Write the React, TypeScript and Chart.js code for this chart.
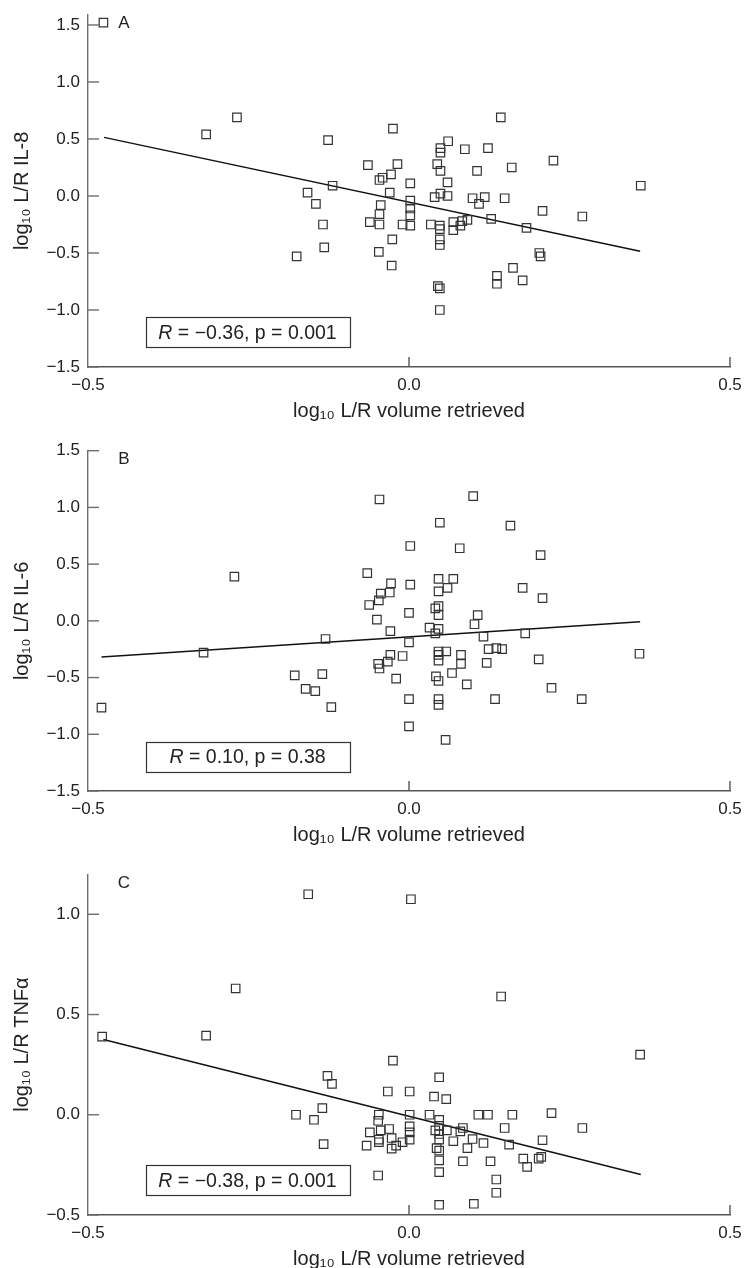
import React, { useEffect, useRef } from "react";
import { Chart, registerables } from "chart.js";

Chart.register(...registerables);

const FONT = "'Liberation Sans', Arial, Helvetica, sans-serif";
Chart.defaults.font.family = FONT;

// ---------- data ----------
const xTitle = "log₁₀ L/R volume retrieved";
const xTickValues = [-0.5, 0, 0.5];
const yTicksAB = [-1.5, -1.0, -0.5, 0, 0.5, 1.0, 1.5];
const yTicksC = [-0.5, 0, 0.5, 1.0];

// Panel A: IL-8
const aX = [
  -0.476, -0.316, -0.268, -0.126, -0.064, -0.119, -0.158, -0.025, 0.143, 0.061,
  0.049, 0.049, 0.087, 0.123, -0.018, 0.044, 0.049, 0.106, 0.16, 0.225,
  0.361, -0.046, -0.041, -0.028, 0.002, 0.06, -0.03, 0.04, 0.049, 0.06,
  0.099, 0.118, 0.149, -0.145, -0.134, -0.132, -0.175, -0.044, -0.046, -0.061,
  -0.046, -0.047, -0.026, -0.027, 0.002, 0.002, 0.002, -0.01, 0.002, 0.034,
  0.048, 0.048, 0.048, 0.048, 0.045, 0.048, 0.048, 0.069, 0.069, 0.08,
  0.083, 0.091, 0.109, 0.128, 0.183, 0.208, 0.27, 0.137, 0.137, 0.162,
  0.177, 0.203, 0.205,
];
const aY = [
  1.52, 0.54, 0.69, 0.49, 0.27, 0.09, 0.03, 0.59, 0.69, 0.48,
  0.42, 0.38, 0.41, 0.42, 0.28, 0.28, 0.22, 0.22, 0.25, 0.31,
  0.09, 0.14, 0.16, 0.19, 0.11, 0.12, 0.03, -0.01, 0.02, 0.0,
  -0.02, -0.01, -0.02, -0.07, -0.25, -0.45, -0.53, -0.08, -0.16, -0.23,
  -0.25, -0.49, -0.38, -0.61, -0.04, -0.11, -0.17, -0.25, -0.26, -0.25,
  -0.26, -0.29, -0.38, -0.43, -0.79, -0.81, -1.0, -0.23, -0.3, -0.26,
  -0.22, -0.21, -0.07, -0.2, -0.28, -0.13, -0.18, -0.7, -0.77, -0.63,
  -0.74, -0.5, -0.53,
];
const aLineX = [-0.475, 0.36];
const aLineY = [0.514, -0.485];

// Panel B: IL-6
const bX = [
  -0.272, -0.065, -0.046, 0.1, 0.048, 0.158, 0.002, 0.079, 0.205, -0.028,
  0.002, 0.046, 0.069, 0.06, 0.046, 0.177, -0.044, -0.03, -0.047, 0.208,
  -0.062, -0.479, -0.32, -0.13, -0.178, -0.135, -0.161, -0.146, -0.121, -0.05,
  -0.029, -0.029, -0.033, -0.048, -0.046, -0.01, -0.02, 0.0, 0.0, 0.0,
  0.0, 0.041, 0.046, 0.046, 0.032, 0.041, 0.046, 0.046, 0.046, 0.046,
  0.058, 0.042, 0.046, 0.046, 0.046, 0.057, 0.067, 0.081, 0.081, 0.09,
  0.102, 0.107, 0.116, 0.121, 0.124, 0.136, 0.145, 0.134, 0.181, 0.202,
  0.222, 0.269, 0.359,
];
const bY = [
  0.39, 0.42, 1.07, 1.1, 0.865, 0.84, 0.66, 0.64, 0.58, 0.33,
  0.32, 0.37, 0.37, 0.29, 0.26, 0.29, 0.24, 0.25, 0.18, 0.2,
  0.14, -0.765, -0.28, -0.16, -0.48, -0.47, -0.6, -0.62, -0.76, 0.01,
  -0.09, -0.3, -0.36, -0.38, -0.42, -0.31, -0.51, 0.07, -0.19, -0.69,
  -0.93, 0.11, 0.13, 0.05, -0.06, -0.11, -0.07, -0.27, -0.3, -0.35,
  -0.27, -0.49, -0.53, -0.69, -0.74, -1.05, -0.46, -0.38, -0.3, -0.56,
  -0.03, 0.05, -0.14, -0.37, -0.25, -0.24, -0.25, -0.69, -0.11, -0.34,
  -0.59, -0.69, -0.29,
];
const bLineX = [-0.479, 0.36];
const bLineY = [-0.318, -0.009];

// Panel C: TNFα
const cX = [
  -0.157, -0.27, -0.316, -0.478, 0.003, 0.1435, 0.36, -0.025, -0.127, -0.12,
  0.047, -0.033, 0.001, 0.039, 0.058, -0.176, -0.135, -0.148, -0.133, -0.047,
  -0.048, -0.061, -0.044, -0.031, -0.027, -0.047, -0.047, -0.066, -0.027, -0.02,
  -0.01, 0.001, 0.001, 0.001, 0.001, 0.032, 0.047, 0.047, 0.041, 0.047,
  0.047, 0.043, 0.047, 0.047, 0.047, 0.047, -0.048, 0.059, 0.069, 0.084,
  0.08, 0.091, 0.099, 0.084, 0.101, 0.108, 0.123, 0.116, 0.127, 0.136,
  0.136, 0.149, 0.156, 0.161, 0.178, 0.184, 0.202, 0.206, 0.208, 0.222,
  0.27,
];
const cY = [
  1.1, 0.63, 0.395, 0.39, 1.075, 0.59, 0.3, 0.27, 0.194, 0.154,
  0.187, 0.116, 0.116, 0.091, 0.078, 0.0, 0.033, -0.025, -0.146, 0.0,
  -0.03, -0.088, -0.078, -0.071, -0.116, -0.124, -0.137, -0.154, -0.169, -0.154,
  -0.137, 0.0, -0.058, -0.088, -0.124, 0.0, -0.025, -0.055, -0.078, -0.096,
  -0.124, -0.166, -0.179, -0.228, -0.286, -0.449, -0.303, -0.078, -0.132, -0.066,
  -0.083, -0.166, -0.121, -0.232, -0.444, 0.0, 0.0, -0.141, -0.232, -0.323,
  -0.389, -0.066, -0.149, 0.0, -0.219, -0.26, -0.219, -0.21, -0.127, 0.008,
  -0.066,
];
const cLineX = [-0.476, 0.361];
const cLineY = [0.375, -0.298];

// ---------- helpers ----------
function fmt(v: number): string {
  const s = Math.abs(v).toFixed(1);
  return v < -1e-9 ? "\u2212" + s : s;
}

const decorPlugin = {
  id: "decor",
  afterDraw(chart: any, _args: any, opts: any) {
    const { ctx, chartArea } = chart;
    const xs = chart.scales.x;
    const ys = chart.scales.y;
    ctx.save();
    // inward y ticks
    ctx.strokeStyle = "#6e6e6e";
    ctx.lineWidth = 1.4;
    ys.ticks.forEach((t: any) => {
      const py = ys.getPixelForValue(t.value);
      ctx.beginPath();
      ctx.moveTo(chartArea.left, py);
      ctx.lineTo(chartArea.left + 11, py);
      ctx.stroke();
    });
    // inward x ticks
    ctx.strokeStyle = "#555";
    ctx.lineWidth = 1.4;
    xs.ticks.forEach((t: any) => {
      if (t.value <= xs.min + 1e-9) return;
      const px = xs.getPixelForValue(t.value);
      ctx.beginPath();
      ctx.moveTo(px, chartArea.bottom);
      ctx.lineTo(px, chartArea.bottom - 10);
      ctx.stroke();
    });
    // panel letter
    ctx.fillStyle = "#222";
    ctx.font = "17px " + FONT;
    ctx.textAlign = "center";
    ctx.textBaseline = "middle";
    ctx.fillText(opts.letter, chartArea.left + 36, chartArea.top + 9);
    // stat box
    const b = opts.box;
    const x0 = xs.getPixelForValue(b[0]);
    const x1 = xs.getPixelForValue(b[1]);
    const y0 = ys.getPixelForValue(b[2]);
    const y1 = ys.getPixelForValue(b[3]);
    ctx.strokeStyle = "#333";
    ctx.lineWidth = 1.2;
    ctx.strokeRect(Math.round(x0) + 0.5, Math.round(y0) + 0.5, Math.round(x1 - x0), Math.round(y1 - y0));
    const italic = "italic 19.5px " + FONT;
    const normal = "19.5px " + FONT;
    ctx.font = italic;
    const w1 = ctx.measureText("R").width;
    ctx.font = normal;
    const rest = opts.stat;
    const w2 = ctx.measureText(rest).width;
    const startX = (x0 + x1) / 2 - (w1 + w2) / 2;
    const cy = (y0 + y1) / 2 + 1;
    ctx.textAlign = "left";
    ctx.fillStyle = "#222";
    ctx.font = italic;
    ctx.fillText("R", startX, cy);
    ctx.font = normal;
    ctx.fillText(rest, startX + w1, cy);
    ctx.restore();
  },
};

type PanelProps = {
  top: number;
  height: number;
  padTop: number;
  xs: number[];
  ys: number[];
  lx: number[];
  ly: number[];
  yMin: number;
  yMax: number;
  yTicks: number[];
  yTitle: string;
  letter: string;
  stat: string;
  box: number[];
};

function Panel(p: PanelProps) {
  const ref = useRef<HTMLCanvasElement>(null);
  useEffect(() => {
    const canvas = ref.current;
    if (!canvas) return;
    const tickFont = { size: 17, family: FONT };
    const titleFont = { size: 20, family: FONT };
    const chart = new Chart(canvas, {
      type: "scatter",
      data: {
        datasets: [
          {
            data: p.xs.map((x, i) => ({ x, y: p.ys[i] })),
            pointStyle: "rect",
            pointRadius: 6.0,
            borderColor: "#333",
            borderWidth: 1.2,
            backgroundColor: "rgba(0,0,0,0)",
          },
          {
            data: p.lx.map((x, i) => ({ x, y: p.ly[i] })),
            showLine: true,
            pointRadius: 0,
            borderColor: "#111",
            borderWidth: 1.5,
          },
        ],
      } as any,
      options: {
        animation: false,
        responsive: false,
        maintainAspectRatio: false,
        layout: { padding: { top: p.padTop, right: 14, left: 0, bottom: 0 } },
        plugins: {
          legend: { display: false },
          tooltip: { enabled: false },
          decor: { letter: p.letter, stat: p.stat, box: p.box },
        } as any,
        scales: {
          x: {
            type: "linear",
            min: -0.5,
            max: 0.5,
            afterBuildTicks: (s: any) => {
              s.ticks = xTickValues.map((v) => ({ value: v }));
            },
            ticks: {
              callback: (v: any) => fmt(Number(v)),
              padding: 8,
              color: "#222",
              font: tickFont,
              maxRotation: 0,
              autoSkip: false,
            },
            grid: { display: false, drawTicks: false },
            border: { display: true, color: "#555", width: 1.4 },
            title: {
              display: true,
              text: xTitle,
              color: "#222",
              font: titleFont,
              padding: { top: 0, bottom: 4 },
            },
            afterFit: (s: any) => {
              s.height = 60;
              s.paddingLeft = 0;
              s.paddingRight = 0;
            },
          },
          y: {
            type: "linear",
            min: p.yMin,
            max: p.yMax,
            afterBuildTicks: (s: any) => {
              s.ticks = p.yTicks.map((v) => ({ value: v }));
            },
            ticks: {
              callback: (v: any) => fmt(Number(v)),
              padding: 8,
              color: "#222",
              font: tickFont,
              autoSkip: false,
            },
            grid: { display: false, drawTicks: false },
            border: { display: true, color: "#6e6e6e", width: 1.4 },
            title: {
              display: true,
              text: p.yTitle,
              color: "#222",
              font: titleFont,
              padding: { top: 10, bottom: 0 },
            },
            afterFit: (s: any) => {
              s.width = 88;
              s.paddingTop = 0;
              s.paddingBottom = 0;
            },
          },
        },
      } as any,
      plugins: [decorPlugin],
    });
    return () => chart.destroy();
  }, []);
  return (
    <canvas
      ref={ref}
      width={744}
      height={p.height}
      style={{ position: "absolute", left: 0, top: p.top, width: 744, height: p.height }}
    />
  );
}

export default function App() {
  return (
    <div
      style={{
        position: "absolute",
        left: 0,
        top: 0,
        width: 744,
        height: 1268,
        overflow: "hidden",
        background: "#fff",
      }}
    >
      <Panel
        top={0}
        height={427}
        padTop={14.7}
        xs={aX}
        ys={aY}
        lx={aLineX}
        ly={aLineY}
        yMin={-1.5}
        yMax={1.59}
        yTicks={yTicksAB}
        yTitle="log₁₀ L/R IL-8"
        letter="A"
        stat=" = −0.36, p = 0.001"
        box={[-0.41, -0.093, -1.065, -1.33]}
      />
      <Panel
        top={427}
        height={424}
        padTop={23.7}
        xs={bX}
        ys={bY}
        lx={bLineX}
        ly={bLineY}
        yMin={-1.5}
        yMax={1.5}
        yTicks={yTicksAB}
        yTitle="log₁₀ L/R IL-6"
        letter="B"
        stat=" = 0.10, p = 0.38"
        box={[-0.41, -0.093, -1.065, -1.33]}
      />
      <Panel
        top={851}
        height={424}
        padTop={23.2}
        xs={cX}
        ys={cY}
        lx={cLineX}
        ly={cLineY}
        yMin={-0.5}
        yMax={1.2}
        yTicks={yTicksC}
        yTitle="log₁₀ L/R TNFα"
        letter="C"
        stat=" = −0.38, p = 0.001"
        box={[-0.41, -0.093, -0.253, -0.401]}
      />
    </div>
  );
}
